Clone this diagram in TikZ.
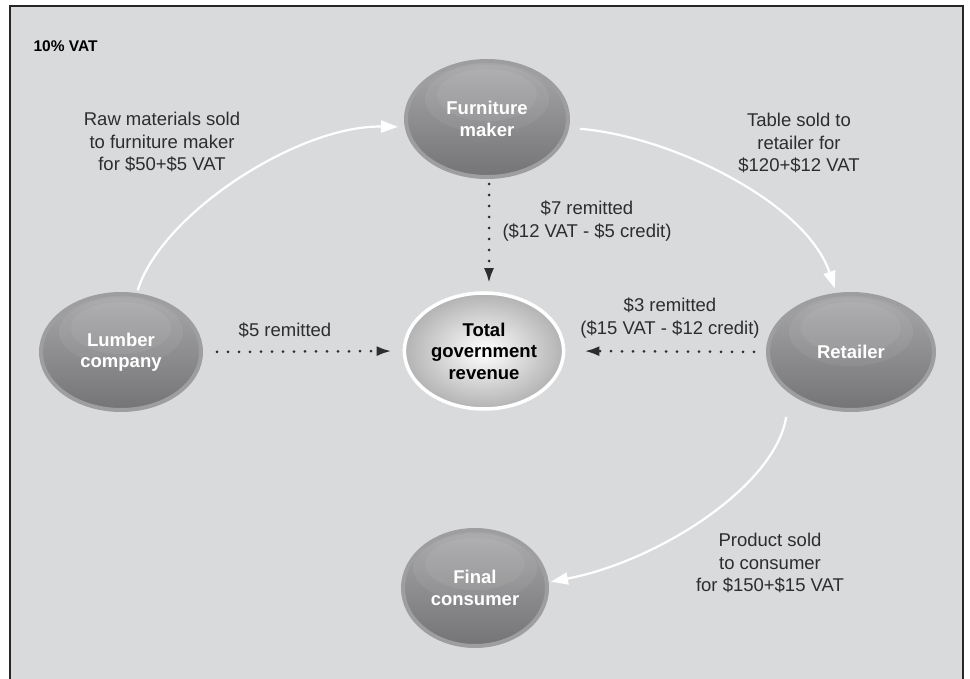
\documentclass[tikz,border=0pt]{standalone}
\usepackage{fontspec}
\setmainfont{Liberation Sans}
\usetikzlibrary{shapes.geometric,arrows.meta}
\definecolor{panel}{RGB}{217,218,220}
\definecolor{rim}{RGB}{158,158,160}
\definecolor{balltop}{RGB}{168,168,170}
\definecolor{ballbot}{RGB}{116,116,118}
\definecolor{ink}{RGB}{45,45,45}
\tikzset{
  firm/.style={ellipse, draw=rim, line width=4pt, top color=balltop, bottom color=ballbot,
    minimum width=160, minimum height=116, align=center, text=white,
    font=\fontsize{18.5}{21.5}\selectfont\bfseries,
    path picture={
      \fill[white,opacity=.06] ([yshift=-38pt]path picture bounding box.north) ellipse (62pt and 34pt);
      \fill[white,opacity=.06] ([yshift=-34pt]path picture bounding box.north) ellipse (50pt and 26pt);}},
  govt/.style={ellipse, draw=white, line width=3.5pt, inner color=white, outer color=black!30,
    minimum width=156, minimum height=116, align=center, text=black,
    font=\fontsize{18.5}{21.5}\selectfont\bfseries},
  sale/.style={white, line width=2.2pt, -{Triangle[length=17pt,width=12pt]}},
  remit/.style={ink, line width=3pt, dash pattern=on 0pt off 11pt, line cap=round,
    -{Latex[length=15pt,width=10pt]}},
  lbl/.style={align=center, text=ink, font=\fontsize{18.5}{22.5}\selectfont}
}
\begin{document}
\begin{tikzpicture}[x=1pt,y=-1pt]
  \useasboundingbox (0,0) rectangle (970,679);
  \fill[panel] (10,6) rectangle (963,679);
  \draw[black!85, line width=2pt] (10,679) -- (10,6) -- (963,6) -- (963,679);
  \node[anchor=west, text=black, font=\fontsize{15.5}{18}\selectfont\bfseries] (title) at (30,46) {10\% VAT};

  % the firms and the government
  \node[firm, minimum width=162] (furniture) at (487,119) {Furniture\\maker};
  \node[firm] (lumber) at (121,352) {Lumber\\company};
  \node[govt] (total) at (484,351) {Total\\government\\revenue};
  \node[firm, minimum width=166] (retailer) at (851,352) {Retailer};
  \node[firm, minimum width=144] (final) at (475,588) {Final\\consumer};

  % sales
  \draw[sale, shorten <=3pt, shorten >=6pt] (lumber.75) .. controls +(25,-80) and +(-105,-2) .. ([yshift=-8pt]furniture.west);
  \draw[sale, shorten <=10pt, shorten >=4pt] ([yshift=-9pt]furniture.east) .. controls +(100,8) and +(-30,-90) .. ([xshift=-15pt]retailer.north);
  \draw[sale, shorten <=5pt, shorten >=2pt] ([xshift=-64pt]retailer.south) .. controls +(-12,75) and +(107,-20) .. ([yshift=6pt]final.east);

  % remittances
  \draw[remit, shorten <=14pt, shorten >=11pt] (lumber.east) -- (total.west);
  \draw[remit, shorten <=5pt, shorten >=8pt] ([xshift=2pt]furniture.south) -- ([xshift=2pt]furniture.south |- total.north);
  \draw[remit, shorten <=12pt, shorten >=19pt] (retailer.west) -- (total.east);

  % labels
  \node[lbl] (rawlbl) at (162,142) {Raw materials sold\\to furniture maker\\for \$50+\$5 VAT};
  \node[lbl] (tablelbl) at (799,143) {Table sold to\\retailer for\\\$120+\$12 VAT};
  \node[lbl] (sevenlbl) at (587,221) {\$7 remitted\\(\$12 VAT - \$5 credit)};
  \node[lbl] (fivelbl) at (285,330) {\$5 remitted};
  \node[lbl] (threelbl) at (670,318) {\$3 remitted\\(\$15 VAT - \$12 credit)};
  \node[lbl] (productlbl) at (770,563) {Product sold\\to consumer\\for \$150+\$15 VAT};
\end{tikzpicture}
\end{document}
